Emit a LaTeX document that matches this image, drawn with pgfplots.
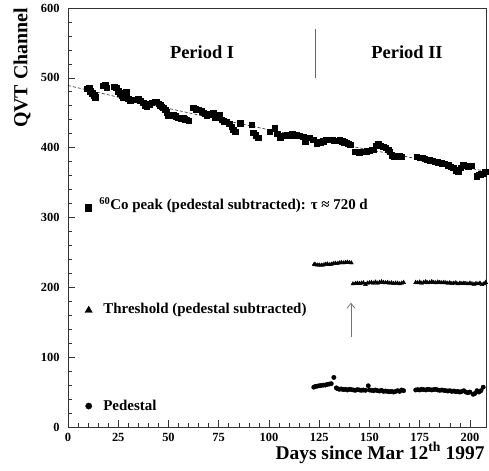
\documentclass[border=0pt]{standalone}
\usepackage{pgfplots}
\pgfplotsset{compat=1.18}
\usetikzlibrary{arrows.meta}
\usepackage{fontspec}
\setmainfont{Liberation Serif}
\begin{document}
\begin{tikzpicture}
\begin{axis}[
  name=ax,
  scale only axis, width=418bp, height=419bp,
  xmin=0, xmax=208, ymin=0, ymax=600,
  xtick={0,25,...,200}, ytick={0,100,...,600},
  minor x tick num=4, minor y tick num=4,
  tick align=inside, tick pos=left,
  major tick length=7bp, minor tick length=4bp,
  axis line style={black!80, line width=0.8pt},
  every tick/.style={black!80, line width=0.6pt},
  /pgf/number format/assume math mode=true,
  ticklabel style={font=\fontsize{12.5}{13}\selectfont\bfseries},
  yticklabel style={xshift=-5bp},
  xticklabel style={yshift=-2.5bp},
  xlabel={Days since Mar 12\textsuperscript{th} 1997},
  ylabel={QVT Channel},
  xlabel style={font=\fontsize{19.5}{20}\selectfont\bfseries, at={(axis description cs:1.005,-0.062)}, anchor=east},
  ylabel style={font=\fontsize{20}{21}\selectfont\bfseries, at={(axis description cs:-0.11,0.857)}, anchor=center, rotate=0},
  clip=false,
]
% fit line
\addplot[black, line width=0.5pt, dash pattern=on 3pt off 2pt] coordinates {
(0,489) (25,472.3) (50,456.2) (75,440.6) (100,425.6) (125,411.1) (150,397.0) (175,383.5) (200,370.4) (208,366.3)};
% Co peak
\addplot[only marks, mark=square*, mark size=2.7bp, black] coordinates {
(9.5,484) (10.5,485) (11,481) (12,478) (13,475) (13.5,472) (17.5,489) (18.5,490) (19.3,486)
(23,487) (24,486) (25,481) (26,478) (26.7,475) (27.5,472) (29,480) (29.2,473) (30,470) (31,468)
(33,469) (35,470) (36,467) (37.5,464) (38.5,461) (39.1,459) (40.5,462) (41.6,464) (43,466) (44.1,466)
(45,463) (45.8,461) (46.6,459) (47.4,457) (48.3,454) (49.1,451) (49.9,446) (51,446) (52.4,447)
(53.5,445) (54.9,443) (56,442) (57.4,442) (58.2,441) (59,440) (60,439) (62.3,457) (63.5,455)
(64.8,454) (66.5,452) (67.5,450) (68.2,449) (69,446) (70.5,448) (72.3,450) (73.1,443) (74,443)
(75.6,447) (76.5,440) (77.5,438) (79,437) (80.2,434) (81.4,430) (82.2,426) (83.1,423) (85.6,435)
(91.4,433) (92.2,421) (93.5,418) (94.7,414) (100.5,423) (103,428) (104,420) (105.5,414) (107,417)
(108.8,418) (110,418) (111.5,419) (112.8,418) (113.8,418) (115,417) (117,416) (118,409) (120,414)
(122,411) (123.7,406) (125.5,408) (127,409) (128.3,411) (129.5,411) (130.3,411) (131.5,411)
(132.5,410) (133.5,410) (135.3,411) (136.5,409) (137.5,408) (138.5,407) (139.5,406) (140.5,404)
(142.8,394) (144,394) (145,393) (146,394) (147,394) (148.5,395) (150,396) (151,397) (152,397)
(153.2,403) (154.4,406) (155.5,403) (156.9,401) (158,400) (159.4,397) (160.2,394) (161,389)
(162,388) (163,387) (164.3,387) (165.2,388) (166,387) (173.5,387) (175,386) (176.5,386)
(177.5,384) (178.5,383) (180,382) (181.3,381) (182.6,380) (184,379) (185.9,378) (187.5,377)
(189.2,375) (190.5,373) (191.7,371) (193,368) (194.2,366) (195.5,371) (196.7,375) (198,374)
(199.2,373) (200.8,374) (203.3,359) (204.5,361) (205.5,362) (206.6,363) (207.5,366)};
% Threshold
\addplot[only marks, mark=triangle*, mark size=2.3bp, black] coordinates {
(122.5,233) (123,232.5) (124,232) (125,232) (126,231.5) (127,232) (128,233) (129,233.5) (130,232.5)
(131,233) (132,234) (133,234.5) (134,234) (135,235) (136,235.5) (137,235) (138,235.5) (139,236)
(140,235.5) (141,235)
(141.8,205) (143,205.5) (144,206) (145,205.5) (146,206) (147,206.5) (148,204) (149,206) (150,206.5)
(151,207) (152,206) (153,207.5) (154,206) (155,207) (156,208) (157,207) (158,206.5) (159,207)
(160,206) (161,206.5) (162,205.5) (163,206) (164,206) (165,205) (166,206) (167,207)
(173,207) (174,206.5) (175,207.5) (176,206) (177,207) (178,208) (179,206.5) (180,207) (181,208)
(182,207) (183,206.5) (184,207.5) (185,207) (186,206.5) (187,207) (188,206.5) (189,206) (190,206.5)
(191,205.5) (192,206) (193,206.5) (194,205) (195,206) (196,205.5) (197,206) (198,205.5) (199,205)
(200,206) (201,205) (202,204.5) (203,205.5) (204,205) (205,206) (206,204) (207,205) (207.8,207)};
% Pedestal
\addplot[only marks, mark=*, mark size=2.2bp, black] coordinates {
(122.3,57) (123,58) (124,58.5) (125,59) (126,59.5) (127,60) (128,60) (129,61) (130,61.5) (131,62) (132.3,71)
(133.5,56) (134,55) (135,54) (136,54.5) (137,53.5) (138,54) (139,53) (140,54) (141,53.5) (142,53)
(143,52.5) (144,53.5) (145,53) (146,52.5) (147,53) (148,52.5) (149.4,59) (150,53) (151,52.5) (152,52)
(153,53) (154,52) (155,51.5) (156,52.5) (157,51) (158,51.5) (159,51) (160,50.5) (161,51) (162,50)
(163,51) (164,52) (165,51) (166,53) (167,52)
(173,53) (174,53.5) (175,53) (176,54) (177,53.5) (178,53) (179,54) (180,53.5) (181,53) (182,53.5)
(183,54) (184,53) (185,52.5) (186,53) (187,52.5) (188,52) (189,51.5) (190,52) (191,51) (192,51.5)
(193,50.5) (194,51) (195,50) (196,51) (197,52) (198,50) (199,49) (200,50) (201.6,46.8) (202.5,48)
(203.5,52) (204.5,50) (205.5,52) (206.6,57)};
% legend markers
\addplot[only marks, mark=square*, mark size=3.2bp, black] coordinates {(10,314)};
\addplot[only marks, mark=triangle*, mark size=4.2bp, black] coordinates {(10.3,167)};
\addplot[only marks, mark=*, mark size=3.1bp, black] coordinates {(10.3,30)};
\node[anchor=west, font=\fontsize{15}{16}\selectfont\bfseries, inner sep=0pt] at (axis cs:15.5,318) {\textsuperscript{60}Co peak (pedestal subtracted): τ ≈ 720 d};
\node[anchor=west, font=\fontsize{15}{16}\selectfont\bfseries, inner sep=0pt] at (axis cs:17.5,167) {Threshold (pedestal subtracted)};
\node[anchor=west, font=\fontsize{15}{16}\selectfont\bfseries, inner sep=0pt] at (axis cs:17.5,31) {Pedestal};
\node[font=\fontsize{18.5}{19}\selectfont\bfseries] at (axis cs:66.7,537) {Period I};
\node[font=\fontsize{18.5}{19}\selectfont\bfseries] at (axis cs:168.7,537) {Period II};
\draw[black!60, line width=0.7pt] (axis cs:122.9,500) -- (axis cs:122.9,570);
\draw[black!55, line width=0.8pt, -{Straight Barb[length=5bp, width=8bp]}] (axis cs:140.8,129) -- (axis cs:140.8,178);
\end{axis}
\pgfresetboundingbox
\path ([xshift=-68bp,yshift=-44bp]ax.south west) rectangle ([xshift=3bp,yshift=8bp]ax.north east);
\end{tikzpicture}
\end{document}
